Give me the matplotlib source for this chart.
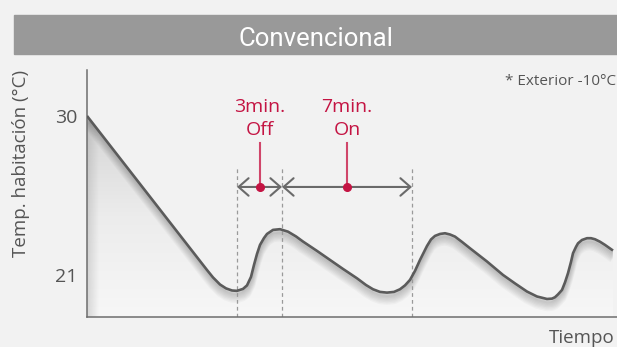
import numpy as np
import matplotlib
matplotlib.use("Agg")
import matplotlib.pyplot as plt
from matplotlib.patches import Polygon, Rectangle
from matplotlib.colors import LinearSegmentedColormap
from matplotlib import transforms

plt.rcParams['font.family'] = ['Open Sans', 'DejaVu Sans']

# Room temperature over time for a conventional on/off heater
time = [0.0, 12.0, 12.6, 13.3, 13.9, 14.5, 15.0, 15.6, 16.0, 16.4, 16.7, 17.0, 17.3,
        17.7, 18.0, 18.6, 19.3, 20.1, 20.9, 21.6, 23.0, 24.3, 25.6, 27.0, 27.9, 28.6,
        29.3, 30.0, 30.7, 31.3, 31.8, 32.3, 32.8, 33.3, 34.0, 34.4, 34.8, 35.3, 35.8,
        36.3, 36.8, 37.5, 38.3, 40.0, 41.6, 42.8, 44.0, 45.0, 46.0, 46.5, 46.8, 47.1,
        47.5, 47.8, 48.1, 48.4, 48.6, 48.9, 49.1, 49.5, 50.0, 50.4, 50.8, 51.3, 51.8, 52.6]
temp = [30.00, 21.28, 20.86, 20.46, 20.24, 20.12, 20.10, 20.21, 20.41, 20.89, 21.57, 22.19,
        22.70, 23.09, 23.32, 23.55, 23.59, 23.45, 23.18, 22.89, 22.36, 21.85, 21.34, 20.81,
        20.43, 20.19, 20.04, 20.00, 20.04, 20.19, 20.41, 20.72, 21.23, 21.85, 22.64, 23.01,
        23.21, 23.32, 23.36, 23.29, 23.17, 22.87, 22.51, 21.76, 21.00, 20.52, 20.06, 19.78,
        19.64, 19.66, 19.74, 19.90, 20.15, 20.58, 21.10, 21.74, 22.23, 22.59, 22.79, 22.98,
        23.08, 23.08, 23.02, 22.88, 22.70, 22.38]

y_ticks = [21, 30]
phase_bounds = [15.0, 19.5, 32.5]          # off period, then on period
phase_marks = [17.25, 26.0]
phase_labels = [("3min.", "Off"), ("7min.", "On")]

title = "Convencional"
y_label = "Temp. habitación (°C)"
x_label = "Tiempo"
note = "* Exterior -10°C"

BG = '#f2f2f2'
GREY_TXT = '#555555'
RED = '#c41443'

W, H = 617, 347
fig = plt.figure(figsize=(W / 100, H / 100), dpi=100, facecolor=BG)

# title band
fig.patches.append(Rectangle((14 / W, 1 - 54 / H), (W - 14) / W, 39 / H,
                             transform=fig.transFigure, color='#999999', zorder=0))
fig.text(315.5 / W, 1 - 46 / H, title, ha='center', va='baseline', color='white',
         fontsize=18.5, family=['Roboto', 'DejaVu Sans'])

ax = fig.add_axes([87 / W, 1 - 317 / H, 1 - 87 / W, (317 - 70) / H])
ax.set_facecolor(BG)
x0, x1 = 0.0, 53.0
y0, y1 = 18.62, 32.60
ax.set_xlim(x0, x1)
ax.set_ylim(y0, y1)

t = np.array(time)
T = np.array(temp)

# gradient fill under the curve
verts = [(t[0], y0)] + list(zip(t, T)) + [(t[-1], y0)]
poly = Polygon(verts, closed=True, facecolor='none', edgecolor='none')
ax.add_patch(poly)
cmap = LinearSegmentedColormap.from_list('fillgrad', ['#f7f7f7', '#ececec', '#d4d4d4'])
grad = np.linspace(0, 1, 256).reshape(-1, 1)
im = ax.imshow(grad, extent=[t[0], t[-1], y0, T.max()], origin='lower', aspect='auto',
               cmap=cmap, zorder=1, interpolation='bicubic')
im.set_clip_path(poly)

# soft left-edge shade
hgrad = np.linspace(1, 0, 64).reshape(1, -1)
cmap_l = LinearSegmentedColormap.from_list('leftshade', [(0.6, 0.6, 0.6, 0.0), (0.6, 0.6, 0.6, 0.35)])
im2 = ax.imshow(hgrad, extent=[t[0], t[0] + 1.2, y0, T.max()], origin='lower', aspect='auto',
                cmap=cmap_l, zorder=1.1, interpolation='bicubic')
im2.set_clip_path(poly)

# drop shadow below the curve
for k in range(1, 9):
    off = transforms.offset_copy(ax.transData, fig=fig, x=0, y=-0.7 * k, units='points')
    ax.plot(t, T, color='black', alpha=0.028, lw=2.5 + 0.5 * k, transform=off,
            solid_joinstyle='round', solid_capstyle='butt', zorder=1.5, clip_path=poly)

ax.plot(t, T, color='#5b5b5b', lw=1.9, solid_joinstyle='round', solid_capstyle='butt', zorder=3)

# phase boundaries
arrow_y = 25.98
for xb in phase_bounds:
    ax.plot([xb, xb], [y0, 27.17], color='#9a9a9a', lw=0.9, ls=(0, (3, 2.5)), zorder=2)

for a, b in zip(phase_bounds[:-1], phase_bounds[1:]):
    ax.annotate('', xy=(b, arrow_y), xytext=(a, arrow_y),
                arrowprops=dict(arrowstyle='<->,head_length=7.2,head_width=6.3',
                                mutation_scale=1, color='#6a6a6a', lw=1.5,
                                shrinkA=0, shrinkB=0), zorder=4)

for xm, (l1, l2) in zip(phase_marks, phase_labels):
    ax.plot([xm, xm], [arrow_y, 28.47], color='#d0466a', lw=1.5, zorder=5)
    ax.plot([xm], [arrow_y], 'o', color=RED, ms=5.5, zorder=6)
    ax.text(xm, 30.24, l1, ha='center', va='baseline', color=RED, fontsize=14)
    ax.text(xm, 28.92, l2, ha='center', va='baseline', color=RED, fontsize=14)

# axes styling
for s in ['top', 'right']:
    ax.spines[s].set_visible(False)
for s in ['left', 'bottom']:
    ax.spines[s].set_color('#6e6e6e')
    ax.spines[s].set_linewidth(1.1)
ax.set_xticks([])
ax.set_yticks(y_ticks)
ax.set_yticklabels([str(v) for v in y_ticks])
ax.tick_params(axis='y', length=0, pad=7.2, labelsize=14, labelcolor=GREY_TXT)

fig.text(21 / W, 1 - 163 / H, y_label, rotation=90, ha='center', va='center',
         color=GREY_TXT, fontsize=13.5)
fig.text(615 / W, 1 - 343 / H, x_label, ha='right', va='baseline', color=GREY_TXT, fontsize=13.5)
fig.text(616 / W, 1 - 85 / H, note, ha='right', va='baseline', color=GREY_TXT, fontsize=11)

fig.savefig('out.png', dpi=100, facecolor=BG)
